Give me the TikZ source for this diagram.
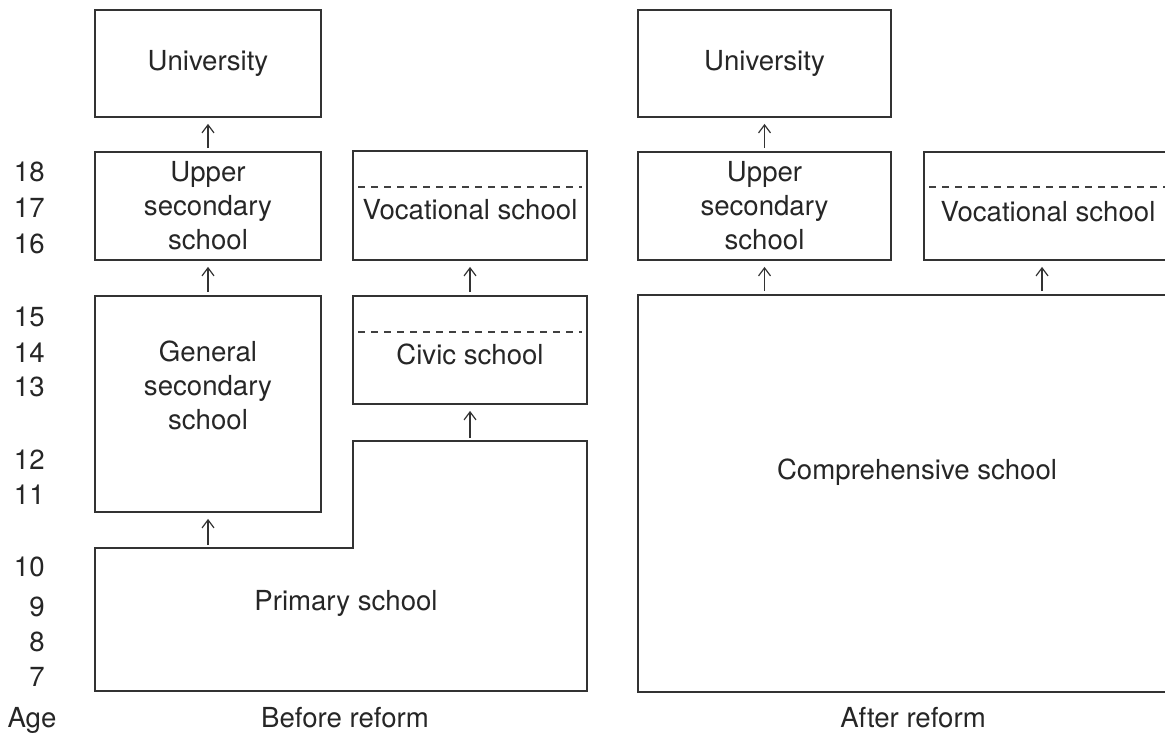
\documentclass[tikz,border=0pt]{standalone}
\usepackage{fontspec}
\setmainfont{TeX Gyre Heros}
\usetikzlibrary{arrows.meta}

\begin{document}
\begin{tikzpicture}[x=0.5pt, y=-0.5pt,
    every node/.style={font=\fontsize{13.8}{17}\selectfont, text=black!85, inner sep=0pt, align=center},
    box/.style={draw=black!80, line width=0.9pt},
    up/.style={-{Straight Barb[length=4pt,width=6pt]}, line width=0.6pt, draw=black!80, shorten <=1.5pt, shorten >=3pt},
    grade/.style={dash pattern=on 3.5pt off 3pt, line width=0.6pt, draw=black!75}]
    % page frame
    \clip (0,0) rectangle (1165,735);
    % before reform
    \node[box, minimum width=113pt, minimum height=53.5pt] (uniL) at (208,63.5) {University};
    \node[box, minimum width=113pt, minimum height=54pt] (upperL) at (208,206) {Upper\\secondary\\school};
    \node[box, minimum width=117pt, minimum height=54.5pt] (vocL) at (470,205.5) {};
    \node (vocLtxt) at (470,210) {Vocational school};
    \draw[grade] (358,187) -- (582,187);
    \node[box, minimum width=113pt, minimum height=108pt] (general) at (208,404) {};
    \node (generalTxt) at (208,385) {General\\secondary\\school};
    \node[box, minimum width=117pt, minimum height=54pt] (civic) at (470,350) {};
    \node (civicTxt) at (470,354) {Civic school};
    \draw[grade] (358,332) -- (582,332);
    % primary school (stepped outline)
    \draw[draw=black!80, line width=0.9pt] (95,548) -- (353,548) -- (353,441) -- (587,441) -- (587,691) -- (95,691) -- cycle;
    \node (primTxt) at (346,603) {Primary school};
    \coordinate (primL) at (208,548);
    \coordinate (primR) at (470,441);
    % arrows, before reform
    \draw[up] (upperL.north) -- (uniL.south);
    \draw[up] (general.north) -- (upperL.south);
    \draw[up] (primL) -- (general.south);
    \draw[up] (civic.north) -- (vocL.south);
    \draw[up] (primR) -- (civic.south);
    % after reform
    \node[box, minimum width=126.5pt, minimum height=53.5pt] (uniR) at (764.5,63.5) {University};
    \node[box, minimum width=126.5pt, minimum height=54pt] (upperR) at (764.5,206) {Upper\\secondary\\school};
    \node[box, minimum width=124pt, minimum height=54pt] (vocR) at (1048,206) {};
    \node (vocRtxt) at (1048,212) {Vocational school};
    \draw[grade] (929,187) -- (1170,187);
    \node[box, minimum width=279pt, minimum height=198.5pt] (compR) at (917,493.5) {};
    \node (compTxt) at (917,472) {Comprehensive school};
    % arrows, after reform
    \draw[up] (upperR.north) -- (uniR.south);
    \draw[up] (upperR.south |- compR.north) -- (upperR.south);
    \draw[up] ([xshift=-3pt]vocR.south |- compR.north) -- ([xshift=-3pt]vocR.south);
    % ages
    \foreach \a/\y in {18/172,17/208,16/244,15/317,14/353,13/387,12/460,11/495,10/567,9/607,8/642,7/677}
        \node[anchor=east] (age\a) at (45,\y) {\a};
    \node (age) at (32,720) {Age};
    % captions
    \node (before) at (345,718) {Before reform};
    \node (after) at (913,718) {After reform};
\end{tikzpicture}
\end{document}
